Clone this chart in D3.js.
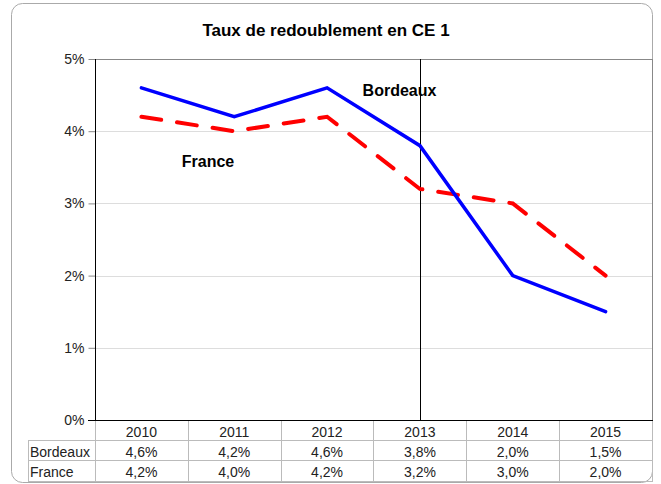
<!DOCTYPE html>
<html>
<head>
<meta charset="utf-8">
<script src="https://cdn.jsdelivr.net/npm/d3@7"></script>
<style>
body { margin: 0; background: #fff; font-family: "Liberation Sans", Arial, sans-serif; }
</style>
</head>
<body>
<script>
"use strict";

var years = ["2010", "2011", "2012", "2013", "2014", "2015"];
var bordeaux = [4.6, 4.2, 4.6, 3.8, 2.0, 1.5];
var france = [4.2, 4.0, 4.2, 3.2, 3.0, 2.0];
var yTicks = [0, 1, 2, 3, 4, 5];

var W = 661, H = 484;
var plotL = 95, plotR = 652, plotT = 59, plotB = 420;

var svg = d3.select("body").append("svg").attr("width", W).attr("height", H);

//Outer frame
svg.append("rect").attr("x", 11.5).attr("y", 3.5).attr("width", 641).attr("height", 479)
  .attr("rx", 11).attr("fill", "#fff").attr("stroke", "#aaa").attr("stroke-width", 1);

//Title
svg.append("text").attr("x", 326).attr("y", 36).attr("text-anchor", "middle")
  .style("font-size", "17px").style("font-weight", "bold").text("Taux de redoublement en CE 1");

var x = d3.scaleBand().domain(years).range([plotL, plotR]);
var y = d3.scaleLinear().domain([0, 5]).range([plotB, plotT]);

//Grid lines
svg.append("g").selectAll("line").data(yTicks.slice(1)).enter().append("line")
  .attr("x1", plotL).attr("x2", plotR)
  .attr("y1", function (d) { return Math.round(y(d)) + 0.5; })
  .attr("y2", function (d) { return Math.round(y(d)) + 0.5; })
  .attr("stroke", function (d) { return d === 5 ? "#888" : "#ddd"; });

//Right border of plot
svg.append("line").attr("x1", plotR + 0.5).attr("x2", plotR + 0.5).attr("y1", plotT).attr("y2", plotB)
  .attr("stroke", "#888");

//Y axis
var yAxis = d3.axisLeft(y).tickValues(yTicks).tickSize(7).tickPadding(4)
  .tickFormat(function (d) { return d + "%"; });
var yg = svg.append("g").attr("transform", "translate(" + (plotL + 0.5) + ",0)").call(yAxis);
yg.selectAll("text").style("font-size", "14px").style("font-family", "Liberation Sans, Arial").attr("fill", "#222");
yg.selectAll("line").attr("stroke", "#888");
yg.select(".domain").remove();
svg.append("line").attr("x1", plotL + 0.5).attr("x2", plotL + 0.5).attr("y1", plotT).attr("y2", plotB).attr("stroke", "#000");

//Vertical marker at 2013
var xm = Math.round(x("2013") + x.bandwidth() / 2) + 0.5;
svg.append("line").attr("x1", xm).attr("x2", xm).attr("y1", plotT).attr("y2", plotB).attr("stroke", "#000").attr("stroke-width", 1);

//Lines
var line = d3.line()
  .x(function (d, i) { return x(years[i]) + x.bandwidth() / 2; })
  .y(function (d) { return y(d); });

svg.append("path").datum(france).attr("d", line).attr("fill", "none")
  .attr("stroke", "#ff0000").attr("stroke-width", 4).attr("stroke-linecap", "round")
  .attr("stroke-dasharray", "20,16");
svg.append("path").datum(bordeaux).attr("d", line).attr("fill", "none")
  .attr("stroke", "#0000ff").attr("stroke-width", 3.5).attr("stroke-linecap", "round");

//Labels
svg.append("text").attr("x", 399.5).attr("y", 96).attr("text-anchor", "middle")
  .style("font-size", "16px").style("font-weight", "bold").text("Bordeaux");
svg.append("text").attr("x", 208).attr("y", 167).attr("text-anchor", "middle")
  .style("font-size", "16px").style("font-weight", "bold").text("France");

//Data table
var rows = [{ name: "Bordeaux", vals: bordeaux }, { name: "France", vals: france }];
var rowBase = [457, 477];
var fmt = function (v) { return v.toFixed(1).replace(".", ",") + "%"; };
var tbl = svg.append("g");

//Table lines
[440.5, 460.5, 481.5].forEach(function (yy) {
  tbl.append("line").attr("x1", 28).attr("x2", plotR).attr("y1", yy).attr("y2", yy).attr("stroke", "#bbb");
});
tbl.append("line").attr("x1", 28.5).attr("x2", 28.5).attr("y1", 440).attr("y2", 482).attr("stroke", "#bbb");
tbl.append("line").attr("x1", plotL + 0.5).attr("x2", plotL + 0.5).attr("y1", plotB).attr("y2", 482).attr("stroke", "#bbb");
tbl.selectAll(".vsep").data(years).enter().append("line")
  .attr("x1", function (d) { return Math.round(x(d) + x.bandwidth()) + 0.5; })
  .attr("x2", function (d) { return Math.round(x(d) + x.bandwidth()) + 0.5; })
  .attr("y1", plotB).attr("y2", 482).attr("stroke", "#bbb");

//Bottom axis line
svg.append("line").attr("x1", 88).attr("x2", plotR + 1).attr("y1", plotB + 0.5).attr("y2", plotB + 0.5).attr("stroke", "#000");

//Header years
tbl.selectAll(".yr").data(years).enter().append("text")
  .attr("x", function (d) { return x(d) + x.bandwidth() / 2; })
  .attr("y", 437).attr("text-anchor", "middle").style("font-size", "14px").attr("fill", "#222")
  .text(function (d) { return d; });

rows.forEach(function (r, ri) {
  tbl.append("text").attr("x", 30).attr("y", rowBase[ri]).style("font-size", "14px").attr("fill", "#222").text(r.name);
  tbl.selectAll(".v" + ri).data(r.vals).enter().append("text")
    .attr("x", function (d, i) { return x(years[i]) + x.bandwidth() / 2; })
    .attr("y", rowBase[ri]).attr("text-anchor", "middle").style("font-size", "14px").attr("fill", "#222")
    .text(function (d) { return fmt(d); });
});
</script>
</body>
</html>
